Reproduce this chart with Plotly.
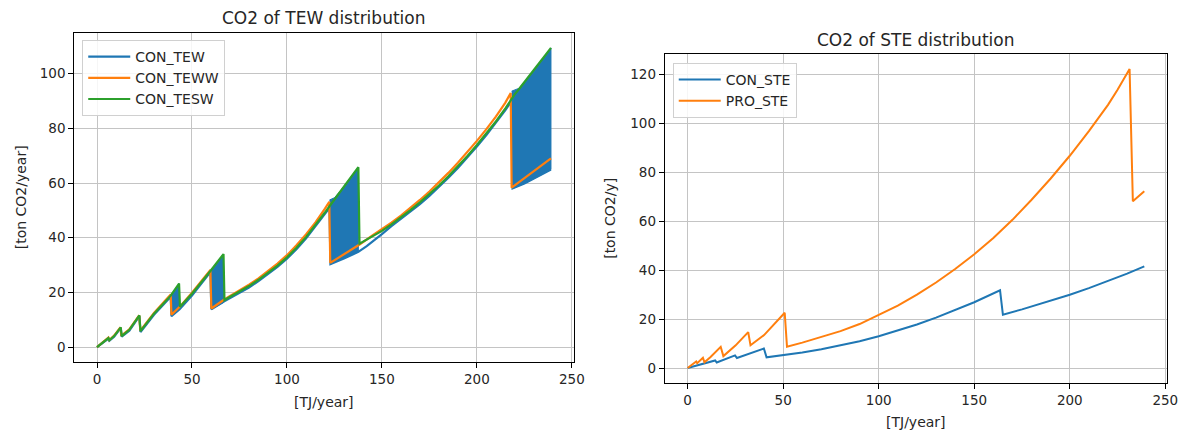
import plotly.graph_objects as go

# ---------------- CO2 of TEW distribution ----------------
TEW_X = [0, 3, 6, 6.5, 9, 12.5, 13, 17, 22.3, 22.9, 30, 38.8, 39.2, 43.5, 50, 59.7, 60.2,
         67, 75, 80, 85, 90, 95, 100, 105, 110, 115, 120, 122.4, 122.9, 130, 137.6,
         142, 146, 150, 155, 160, 165, 170, 175, 180, 185, 190, 195, 200, 205, 210, 215,
         218.3, 218.8, 225, 230, 235, 239]
TEW_Y = [0, 1.5, 3.1, 2.3, 3.8, 7.0, 3.8, 6.0, 11.3, 5.5, 11.8, 18.4, 11.3, 13.8, 18.8, 27.4, 13.8,
         16.7, 19.7, 21.8, 24.1, 26.6, 29.3, 32.3, 35.8, 39.7, 44.0, 48.7, 50.9, 30.3, 32.4, 34.8,
         36.9, 39.0, 41.3, 44.2, 46.8, 49.5, 52.3, 55.3, 58.5, 61.9, 65.5, 69.3, 73.3, 77.5, 81.9, 86.7,
         90.0, 58.0, 59.8, 61.6, 63.3, 64.9]

TEWW_X = [0, 3, 6, 6.5, 9, 12.3, 12.8, 17, 22.2, 22.8, 30, 38.8, 39.2, 43.5, 50, 59.7, 60.2,
          67, 75, 80, 85, 90, 95, 100, 105, 110, 115, 120, 122.3, 122.8, 138,
          145, 150, 155, 160, 165, 170, 175, 180, 185, 190, 195, 200, 205, 210, 215,
          217.8, 218.3, 239]
TEWW_Y = [0, 1.8, 3.5, 2.6, 4.2, 7.2, 4.2, 6.5, 11.6, 6.0, 12.5, 19.2, 11.8, 14.7, 19.9, 28.2, 14.1,
          17.4, 20.6, 22.8, 25.1, 27.7, 30.5, 33.6, 37.2, 41.2, 45.6, 50.6, 53.1, 30.8, 37.4,
          40.8, 43.0, 45.5, 48.1, 50.9, 53.8, 56.9, 60.2, 63.7, 67.4, 71.3, 75.4, 79.7, 84.3, 89.4,
          92.9, 58.3, 69.0]

TESW_X = [0, 3, 6, 6.5, 9, 12.5, 13, 17, 22.3, 22.9, 30, 38.8, 43.2, 43.7, 50, 59.7, 66.6, 67.1,
          75, 80, 85, 90, 95, 100, 105, 110, 115, 120, 122.3, 125, 128, 132, 137.6, 138.2,
          145, 150, 155, 160, 165, 170, 175, 180, 185, 190, 195, 200, 205, 210, 215,
          217.5, 220, 222, 225, 230, 235, 239]
TESW_Y = [0, 1.6, 3.3, 2.5, 4.0, 7.2, 4.0, 6.3, 11.6, 5.8, 12.2, 18.8, 23.2, 14.7, 19.5, 27.8, 34.0, 17.2,
          20.2, 22.3, 24.6, 27.1, 29.8, 32.8, 36.3, 40.2, 44.5, 49.2, 51.4, 54.0, 57.0, 60.8, 65.8, 37.8,
          40.4, 42.5, 44.9, 47.4, 50.1, 52.9, 55.9, 59.1, 62.5, 66.1, 69.9, 73.9, 78.1, 82.5, 87.3,
          90.0, 92.5, 94.2, 96.8, 101.3, 105.8, 109.4]

# CON_TEW switches back and forth between two levels inside these spans
TEW_BAND_X_HI = [38.8, 43.2, None, 59.7, 66.6, None, 122.4, 125, 128, 132, 137.6, None,
                 218.3, 222, 225, 230, 235, 239]
TEW_BAND_Y_HI = [18.8, 23.2, None, 27.8, 34.0, None, 53.8, 54.6, 57.0, 60.8, 65.8, None,
                 93.6, 94.6, 96.8, 101.3, 105.8, 109.4]
TEW_BAND_X_LO = [39.2, 43.2, None, 60.2, 66.6, None, 122.9, 130, 137.6, None,
                 218.8, 225, 230, 235, 239]
TEW_BAND_Y_LO = [11.3, 13.6, None, 13.8, 16.3, None, 30.3, 32.4, 34.8, None,
                 58.0, 59.8, 61.6, 63.3, 64.9]

# ---------------- CO2 of STE distribution ----------------
CON_STE_X = [0, 5, 10, 14.4, 15.2, 20, 24.8, 25.8, 32, 39.9, 41.3, 50, 60, 70, 80, 90, 100,
             110, 120, 130, 140, 150, 163.5, 165, 175, 185, 200, 210, 220, 230, 239]
CON_STE_Y = [0, 1.0, 2.0, 3.1, 2.3, 3.6, 5.2, 4.1, 5.8, 8.0, 4.4, 5.3, 6.4, 7.7, 9.2, 11.0, 13.0,
             15.3, 17.8, 20.6, 23.6, 26.9, 31.8, 21.8, 24.0, 26.3, 30.0, 32.7, 35.6, 38.6, 41.6]

PRO_STE_X = [0, 2, 4.5, 5, 8, 8.8, 12, 17.3, 18.7, 25, 31.7, 32.9, 40, 50.8, 52, 60, 70, 80,
             90, 100, 110, 120, 130, 140, 150, 160, 170, 180, 190, 200, 210, 220, 225, 231.3, 233, 239]
PRO_STE_Y = [0, 1.2, 2.7, 2.0, 4.2, 2.4, 4.5, 8.7, 4.9, 9.2, 14.7, 9.3, 13.5, 22.6, 8.7, 10.4, 12.6, 15.1,
             18.0, 21.6, 25.5, 30.0, 35.0, 40.5, 46.5, 53.2, 60.6, 68.8, 77.5, 86.8, 96.9, 107.6, 113.8,
             122.3, 68.2, 72.3]

X_TICKS = [0, 50, 100, 150, 200, 250]
TEW_Y_TICKS = [0, 20, 40, 60, 80, 100]
STE_Y_TICKS = [0, 20, 40, 60, 80, 100, 120]

BLUE, ORANGE, GREEN = "#1f77b4", "#ff7f0e", "#2ca02c"
FONT = "DejaVu Sans"
W, H = 1193, 434


def split_segments(xs, ys):
    segs, cx, cy = [], [], []
    for x, y in zip(xs, ys):
        if x is None:
            segs.append((cx, cy))
            cx, cy = [], []
        else:
            cx.append(x)
            cy.append(y)
    segs.append((cx, cy))
    return segs


# closed polygons: upper edge forward, lower edge back
band_x, band_y = [], []
for (hx, hy), (lx, ly) in zip(split_segments(TEW_BAND_X_HI, TEW_BAND_Y_HI),
                              split_segments(TEW_BAND_X_LO, TEW_BAND_Y_LO)):
    if band_x:
        band_x.append(None)
        band_y.append(None)
    band_x += hx + lx[::-1]
    band_y += hy + ly[::-1]

fig = go.Figure()
lw = 2.2
fig.add_trace(go.Scatter(x=band_x, y=band_y, mode="lines", fill="toself",
                         fillcolor=BLUE, line=dict(color=BLUE, width=1),
                         showlegend=False, hoverinfo="skip", xaxis="x", yaxis="y"))
fig.add_trace(go.Scatter(x=TEW_X, y=TEW_Y, mode="lines", name="CON_TEW",
                         line=dict(color=BLUE, width=lw), xaxis="x", yaxis="y", legend="legend"))
fig.add_trace(go.Scatter(x=TEWW_X, y=TEWW_Y, mode="lines", name="CON_TEWW",
                         line=dict(color=ORANGE, width=lw), xaxis="x", yaxis="y", legend="legend"))
fig.add_trace(go.Scatter(x=TESW_X, y=TESW_Y, mode="lines", name="CON_TESW",
                         line=dict(color=GREEN, width=lw), xaxis="x", yaxis="y", legend="legend"))

fig.add_trace(go.Scatter(x=CON_STE_X, y=CON_STE_Y, mode="lines", name="CON_STE",
                         line=dict(color=BLUE, width=2), xaxis="x2", yaxis="y2", legend="legend2"))
fig.add_trace(go.Scatter(x=PRO_STE_X, y=PRO_STE_Y, mode="lines", name="PRO_STE",
                         line=dict(color=ORANGE, width=2), xaxis="x2", yaxis="y2", legend="legend2"))

axis_common = dict(showline=True, mirror=True, linecolor="#000000", linewidth=1.2,
                   ticks="outside", ticklen=5, tickcolor="#000000", tickwidth=1,
                   showgrid=True, gridcolor="#c4c4c4", gridwidth=1, zeroline=False,
                   tickfont=dict(family=FONT, size=13.5, color="#262626"))

# plot areas in pixels (left, right, top, bottom)
L_BOX = (75, 579, 33, 362)
R_BOX = (671, 1178, 54, 383)


def xdom(b):
    return [b[0] / W, b[1] / W]


def ydom(b):
    return [(H - b[3]) / H, (H - b[2]) / H]


legend_common = dict(xanchor="left", yanchor="top", itemwidth=42,
                     bgcolor="rgba(255,255,255,0.85)", bordercolor="#d0d0d0", borderwidth=1,
                     font=dict(family=FONT, size=14, color="#262626"))

fig.update_layout(
    width=W, height=H, margin=dict(l=0, r=0, t=0, b=0),
    paper_bgcolor="white", plot_bgcolor="white",
    font=dict(family=FONT, color="#262626"),
    xaxis=dict(domain=xdom(L_BOX), range=[-11.95, 250.95], tickvals=X_TICKS, anchor="y", **axis_common),
    yaxis=dict(domain=ydom(L_BOX), range=[-5.47, 114.87], tickvals=TEW_Y_TICKS, anchor="x", **axis_common),
    xaxis2=dict(domain=xdom(R_BOX), range=[-11.95, 250.95], tickvals=X_TICKS, anchor="y2", **axis_common),
    yaxis2=dict(domain=ydom(R_BOX), range=[-6.1, 128.4], tickvals=STE_Y_TICKS, anchor="x2", **axis_common),
    legend=dict(x=83 / W, y=1 - 40 / H, **legend_common),
    legend2=dict(x=679 / W, y=1 - 63 / H, **legend_common),
    showlegend=True,
)

text_font = dict(family=FONT, size=14, color="#262626")
annotations = [
    dict(text="CO2 of TEW distribution", x=327 / W, y=1 - 18 / H, font=dict(family=FONT, size=17, color="#262626")),
    dict(text="CO2 of STE distribution", x=924.5 / W, y=1 - 40 / H, font=dict(family=FONT, size=17, color="#262626")),
    dict(text="[TJ/year]", x=327 / W, y=1 - 402 / H, font=text_font),
    dict(text="[TJ/year]", x=924.5 / W, y=1 - 422 / H, font=text_font),
    dict(text="[ton CO2/year]", x=22 / W, y=1 - 197.5 / H, textangle=-90, font=text_font),
    dict(text="[ton CO2/y]", x=615 / W, y=1 - 218.5 / H, textangle=-90, font=text_font),
]
for a in annotations:
    a.update(xref="paper", yref="paper", xanchor="center", yanchor="middle", showarrow=False)
fig.update_layout(annotations=annotations)

fig.write_html("out.html")
